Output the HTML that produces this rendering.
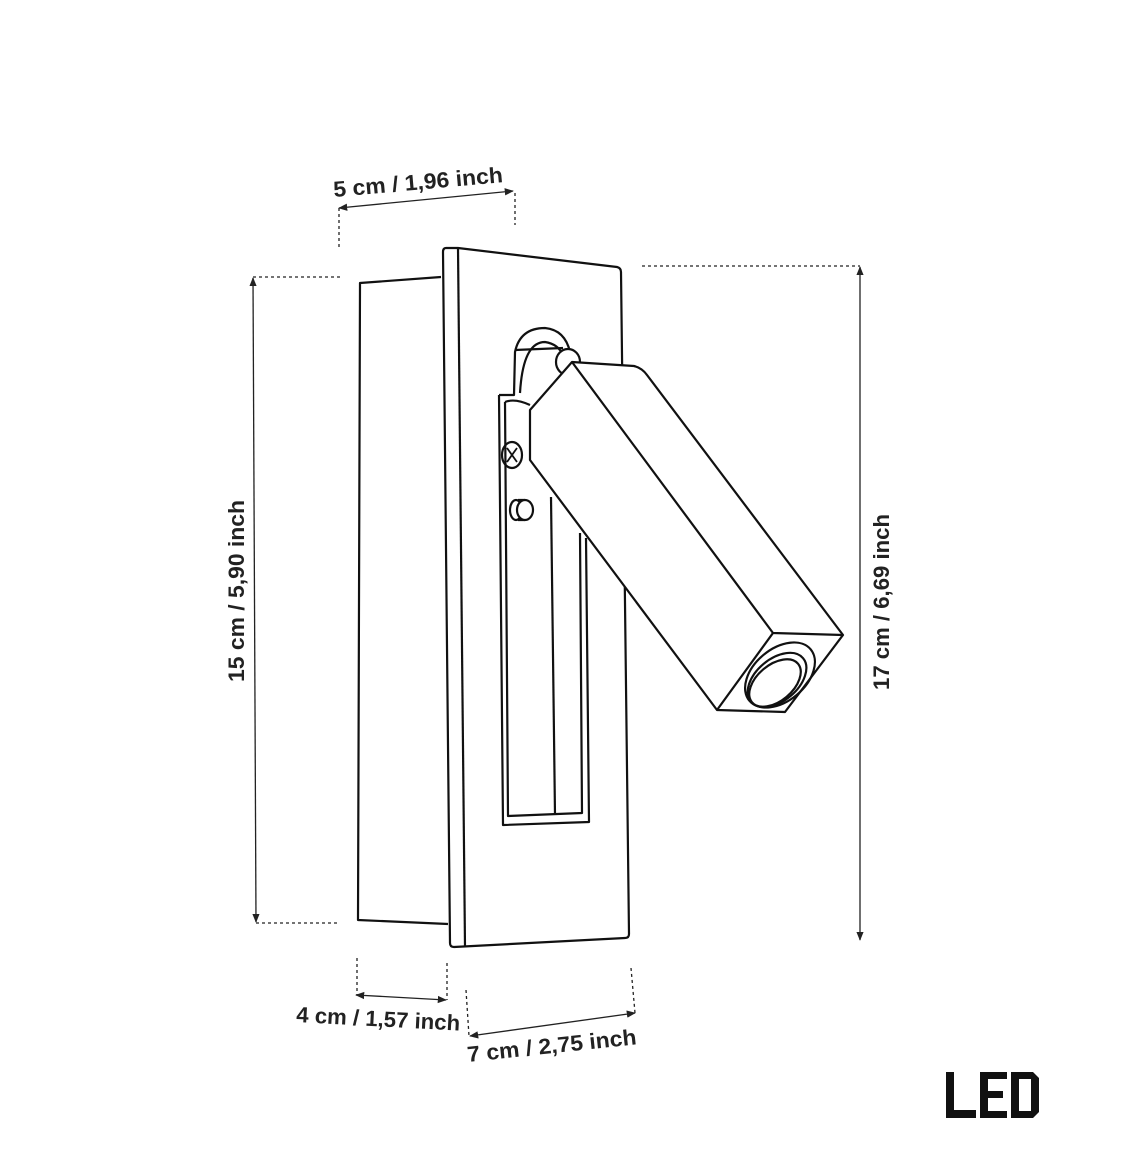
<!DOCTYPE html>
<html><head><meta charset="utf-8"><style>
html,body{margin:0;padding:0;background:#fff;}
svg{display:block}
text{font-family:"Liberation Sans",sans-serif;font-size:22px;font-weight:bold;fill:#222;}
</style></head><body>
<svg width="1125" height="1175" viewBox="0 0 1125 1175" xmlns="http://www.w3.org/2000/svg">
<defs>
<marker id="a" viewBox="0 0 10 10" refX="9" refY="5" markerWidth="7" markerHeight="7" orient="auto-start-reverse"><path d="M0,1 L10,5 L0,9 z" fill="#222"/></marker>
</defs>
<g fill="none" stroke="#111" stroke-width="2.2" stroke-linejoin="round">
<path d="M441,277 L360,283 L358,920 L448,924"/>
<path d="M446,248 L458,248 L617,267 Q621,268 621,272 L629,934 Q629,938 625,938 L454,947 Q450,947 450,943 L443,252 Q443,248 446,248 Z" fill="#fff"/>
<path d="M458,248 L465,947"/>
<path d="M499,395 L514,395 L515,352 Q520,328 545,328 Q565,330 570,352"/>
<path d="M520,393 Q523,342 545,342 Q558,344 563,355"/>
<path d="M515,350 L563,348"/>
<path d="M499,395 L503,825 L589,822 L586,538"/>
<path d="M505,402 L508,816 L582,813 L580,533"/>
<path d="M505,402 Q515,398 530,405"/>
<path d="M551,497 L555,815"/>
<ellipse cx="512" cy="455" rx="10" ry="13"/>
<path d="M507,448 L517,462 M517,448 L507,462" stroke-width="1.8"/>
<path d="M518,500 L525,500 M518,520 L525,520"/>
<ellipse cx="516" cy="510" rx="6" ry="10"/>
<ellipse cx="525" cy="510" rx="8" ry="10" fill="#fff"/>
<ellipse cx="568" cy="362" rx="12" ry="13" fill="#fff"/>
<path d="M572,362 L634,366 Q642,368 647,375 L843,635 L785,712 L717,710 L530,460 L530,410 Z" fill="#fff"/>
<path d="M572,362 L773,633 L843,635"/>
<path d="M773,633 L717,710"/>
<ellipse cx="780" cy="675" rx="40" ry="26" transform="rotate(-40 780 675)"/>
<ellipse cx="777" cy="680" rx="34" ry="21" transform="rotate(-40 777 680)"/>
<ellipse cx="775" cy="683" rx="30" ry="18" transform="rotate(-40 775 683)"/>
</g>
<g stroke="#222" stroke-width="1.3" fill="none">
<line x1="339" y1="208" x2="513" y2="191" marker-start="url(#a)" marker-end="url(#a)"/>
<line x1="339" y1="208" x2="339" y2="248" stroke-dasharray="3,3"/>
<line x1="515" y1="193" x2="515" y2="225" stroke-dasharray="3,3"/>
<line x1="253" y1="278" x2="256" y2="922" marker-start="url(#a)" marker-end="url(#a)"/>
<line x1="253" y1="277" x2="340" y2="277" stroke-dasharray="3,3"/>
<line x1="256" y1="923" x2="340" y2="923" stroke-dasharray="3,3"/>
<line x1="860" y1="267" x2="860" y2="940" marker-start="url(#a)" marker-end="url(#a)"/>
<line x1="642" y1="266" x2="860" y2="266" stroke-dasharray="3,3"/>
<line x1="356" y1="995" x2="446" y2="1000" marker-start="url(#a)" marker-end="url(#a)"/>
<line x1="357" y1="958" x2="357" y2="995" stroke-dasharray="3,3"/>
<line x1="447" y1="963" x2="447" y2="1000" stroke-dasharray="3,3"/>
<line x1="470" y1="1036" x2="635" y2="1013" marker-start="url(#a)" marker-end="url(#a)"/>
<line x1="466" y1="990" x2="469" y2="1036" stroke-dasharray="3,3"/>
<line x1="631" y1="968" x2="635" y2="1013" stroke-dasharray="3,3"/>
</g>
<text x="334" y="197" transform="rotate(-5 334 197)" textLength="170" lengthAdjust="spacingAndGlyphs">5 cm  / 1,96 inch</text>
<text transform="translate(244,682) rotate(-90)" textLength="182" lengthAdjust="spacingAndGlyphs">15 cm  / 5,90 inch</text>
<text transform="translate(889,690) rotate(-90)" textLength="176" lengthAdjust="spacingAndGlyphs">17 cm / 6,69 inch</text>
<text x="296" y="1022" transform="rotate(3 296 1022)" textLength="164" lengthAdjust="spacingAndGlyphs">4 cm / 1,57 inch</text>
<text x="468" y="1062" transform="rotate(-6 468 1062)" textLength="170" lengthAdjust="spacingAndGlyphs">7 cm  / 2,75 inch</text>
<g fill="#111">
<path d="M946,1072 h8 v38 h22 v8 h-30 z"/>
<path d="M980,1072 h27 v7 h-19 v12 h15 v7 h-15 v13 h19 v7 h-27 z"/>
<path d="M1011,1072 h22 l6,6 v34 l-6,6 h-22 z M1019,1079 v32 h12 v-32 z"/>
</g>
</svg>
</body></html>
